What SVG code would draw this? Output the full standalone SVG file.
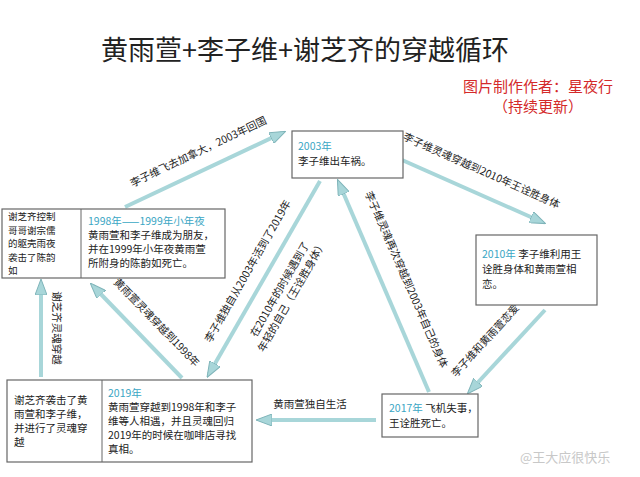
<svg xmlns="http://www.w3.org/2000/svg" width="640" height="477" viewBox="0 0 640 477">
<style>
text{font-family:"Noto Sans CJK SC","Liberation Sans",sans-serif;fill:#222}
.t{font-size:10.5px}
.s{font-size:9.5px}
.y{fill:#3aa6c4}
.box{fill:#fff;stroke:#666;stroke-width:1.2}
.ar{stroke:#a8d6d9;stroke-width:4;fill:none;marker-end:url(#ah)}
</style>
<defs>
<marker id="ah" markerWidth="4" markerHeight="3" refX="3" refY="1.5" orient="auto" markerUnits="strokeWidth">
<path d="M0,0 L4,1.5 L0,3 Z" fill="#a8d6d9" stroke="#7fb4b9" stroke-width="0.25"/>
</marker>
</defs>
<rect width="640" height="477" fill="#fff"/>
<text x="305" y="60" text-anchor="middle" style="font-size:27px;font-family:'Noto Sans CJK SC',serif">黄雨萱+李子维+谢芝齐的穿越循环</text>
<text x="538" y="92" text-anchor="middle" style="font-size:15px;fill:#d42a2a">图片制作作者：星夜行</text>
<text x="538" y="112" text-anchor="middle" style="font-size:15px;fill:#d42a2a">（持续更新）</text>

<g id="connectors">
<line class="ar" x1="125" y1="207" x2="282" y2="133"/>
<line class="ar" x1="384" y1="152" x2="542" y2="222"/>
<line class="ar" x1="545" y1="310" x2="470" y2="391"/>
<line class="ar" x1="429" y1="392" x2="339" y2="183"/>
<line class="ar" x1="320" y1="181" x2="209" y2="374"/>
<line class="ar" x1="182" y1="378" x2="93" y2="286"/>
<line class="ar" x1="41" y1="377" x2="41" y2="283"/>
<line class="ar" x1="376" y1="420" x2="260" y2="420"/>
<text class="t" transform="translate(200,155) rotate(-25.5)" text-anchor="middle">李子维飞去加拿大，2003年回国</text>
<text class="t" transform="translate(480,174) rotate(24)" text-anchor="middle">李子维灵魂穿越到2010年王诠胜身体</text>
<text class="t" transform="translate(488,343) rotate(-47.5)" text-anchor="middle">李子维和黄雨萱恋爱</text>
<text class="t" transform="translate(403,281) rotate(66.5)" text-anchor="middle">李子维灵魂再次穿越到2003年自己的身体</text>
<text class="t" transform="translate(251,273) rotate(-60.2)" text-anchor="middle">李子维独自从2003年活到了2019年</text>
<text class="t" transform="translate(283,291) rotate(-60.2)" text-anchor="middle">在2010年的时候遇到了</text>
<text class="t" transform="translate(295,298) rotate(-60.2)" text-anchor="middle">年轻的自己（王诠胜身体）</text>
<text class="t" transform="translate(154,325) rotate(46)" text-anchor="middle">黄雨萱灵魂穿越到1998年</text>
<text class="t" transform="translate(53,328) rotate(90)" text-anchor="middle">谢芝齐灵魂穿越</text>
<text class="t" x="310" y="408" text-anchor="middle">黄雨萱独自生活</text>
</g>

<g id="n2003">
<rect class="box" x="292" y="131" width="111" height="47"/>
<text class="t y" x="298" y="150">2003年</text>
<text class="t" x="298" y="165">李子维出车祸。</text>
</g>
<g id="n1998">
<rect class="box" x="2" y="209" width="223" height="69"/>
<line x1="81" y1="209" x2="81" y2="278" stroke="#666"/>
<text class="s" x="8" y="220">谢芝齐控制</text>
<text class="s" x="8" y="233.5">哥哥谢宗儒</text>
<text class="s" x="8" y="247">的躯壳雨夜</text>
<text class="s" x="8" y="260.5">袭击了陈韵</text>
<text class="s" x="8" y="274">如</text>
<text class="t y" x="88" y="225">1998年——1999年小年夜</text>
<text class="t" x="88" y="239">黄雨萱和李子维成为朋友，</text>
<text class="t" x="88" y="253">并在1999年小年夜黄雨萱</text>
<text class="t" x="88" y="267">所附身的陈韵如死亡。</text>
</g>
<g id="n2010">
<rect class="box" x="476" y="235" width="121" height="70"/>
<text class="t" x="482" y="258"><tspan class="y">2010年</tspan> 李子维利用王</text>
<text class="t" x="482" y="273">诠胜身体和黄雨萱相</text>
<text class="t" x="482" y="288">恋。</text>
</g>
<g id="n2019">
<rect class="box" x="7" y="380" width="245" height="82"/>
<line x1="102" y1="380" x2="102" y2="462" stroke="#666"/>
<text class="t" x="14" y="404">谢芝齐袭击了黄</text>
<text class="t" x="14" y="418">雨萱和李子维，</text>
<text class="t" x="14" y="432">并进行了灵魂穿</text>
<text class="t" x="14" y="446">越</text>
<text class="t y" x="108" y="397">2019年</text>
<text class="t" x="108" y="411">黄雨萱穿越到1998年和李子</text>
<text class="t" x="108" y="425">维等人相遇，并且灵魂回归</text>
<text class="t" x="108" y="439">2019年的时候在咖啡店寻找</text>
<text class="t" x="108" y="453">真相。</text>
</g>
<g id="n2017">
<rect class="box" x="382" y="394" width="96" height="43"/>
<text class="t" x="389" y="412"><tspan class="y">2017年</tspan> 飞机失事，</text>
<text class="t" x="389" y="427">王诠胜死亡。</text>
</g>
<text x="520" y="462" style="font-size:13px;fill:#c8c8c8">@王大应很快乐</text>
</svg>
